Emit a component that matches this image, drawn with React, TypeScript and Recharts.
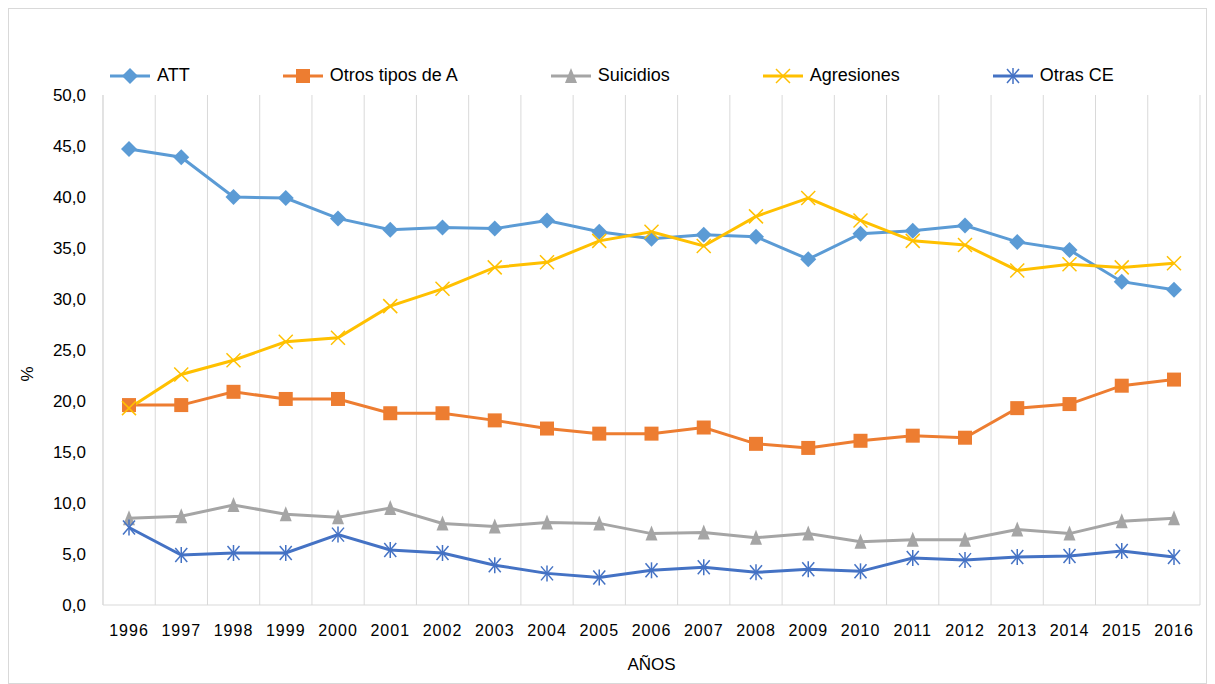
import React from 'react';
import { LineChart, Line, XAxis, YAxis, CartesianGrid } from 'recharts';

const years = ['1996', '1997', '1998', '1999', '2000', '2001', '2002', '2003', '2004', '2005', '2006', '2007', '2008', '2009', '2010', '2011', '2012', '2013', '2014', '2015', '2016'];
const att = [44.7, 43.9, 40.0, 39.9, 37.9, 36.8, 37.0, 36.9, 37.7, 36.6, 35.9, 36.3, 36.1, 33.9, 36.4, 36.7, 37.2, 35.6, 34.8, 31.7, 30.9];
const otrosTipos = [19.6, 19.6, 20.9, 20.2, 20.2, 18.8, 18.8, 18.1, 17.3, 16.8, 16.8, 17.4, 15.8, 15.4, 16.1, 16.6, 16.4, 19.3, 19.7, 21.5, 22.1];
const suicidios = [8.5, 8.7, 9.8, 8.9, 8.6, 9.5, 8.0, 7.7, 8.1, 8.0, 7.0, 7.1, 6.6, 7.0, 6.2, 6.4, 6.4, 7.4, 7.0, 8.2, 8.5];
const agresiones = [19.3, 22.6, 24.0, 25.8, 26.2, 29.3, 31.0, 33.1, 33.6, 35.7, 36.6, 35.2, 38.1, 39.9, 37.7, 35.7, 35.3, 32.8, 33.4, 33.1, 33.5];
const otrasCE = [7.6, 4.9, 5.1, 5.1, 6.9, 5.4, 5.1, 3.9, 3.1, 2.7, 3.4, 3.7, 3.2, 3.5, 3.3, 4.6, 4.4, 4.7, 4.8, 5.3, 4.7];
const yTicks = [0, 5, 10, 15, 20, 25, 30, 35, 40, 45, 50];

const data = years.map((year, i) => ({
  year,
  att: att[i],
  otros: otrosTipos[i],
  suicidios: suicidios[i],
  agresiones: agresiones[i],
  otrasCE: otrasCE[i],
}));

const FONT = "'Liberation Sans', Arial, sans-serif";

type Marker = 'diamond' | 'square' | 'triangle' | 'x' | 'star';

function drawMarker(kind: Marker, cx: number, cy: number, color: string, key?: string) {
  switch (kind) {
    case 'diamond':
      return <polygon key={key} points={`${cx},${cy - 8} ${cx + 8},${cy} ${cx},${cy + 8} ${cx - 8},${cy}`} fill={color} />;
    case 'square':
      return <rect key={key} x={cx - 7} y={cy - 7} width={14} height={14} fill={color} />;
    case 'triangle':
      return <polygon key={key} points={`${cx},${cy - 8} ${cx + 6},${cy + 7} ${cx - 6},${cy + 7}`} fill={color} />;
    case 'x':
      return (
        <g key={key} stroke={color} strokeWidth={1.5}>
          <line x1={cx - 7} y1={cy - 7} x2={cx + 7} y2={cy + 7} />
          <line x1={cx - 7} y1={cy + 7} x2={cx + 7} y2={cy - 7} />
        </g>
      );
    default:
      return (
        <g key={key} stroke={color} strokeWidth={1.5}>
          <line x1={cx - 6} y1={cy - 7} x2={cx + 6} y2={cy + 7} />
          <line x1={cx - 6} y1={cy + 7} x2={cx + 6} y2={cy - 7} />
          <line x1={cx} y1={cy - 8} x2={cx} y2={cy + 8} />
        </g>
      );
  }
}

const series: { key: string; name: string; color: string; marker: Marker }[] = [
  { key: 'att', name: 'ATT', color: '#5B9BD5', marker: 'diamond' },
  { key: 'otros', name: 'Otros tipos de A', color: '#ED7D31', marker: 'square' },
  { key: 'suicidios', name: 'Suicidios', color: '#A5A5A5', marker: 'triangle' },
  { key: 'agresiones', name: 'Agresiones', color: '#FFC000', marker: 'x' },
  { key: 'otrasCE', name: 'Otras CE', color: '#4472C4', marker: 'star' },
];

function ChartLegend() {
  return (
    <div
      style={{
        position: 'absolute',
        top: 56,
        left: 101,
        display: 'flex',
        gap: 93,
        fontFamily: FONT,
        fontSize: 18,
        color: '#000',
      }}
    >
      {series.map((s) => (
        <div key={s.key} style={{ display: 'flex', alignItems: 'center' }}>
          <svg width={40} height={18} style={{ marginRight: 7 }}>
            <line x1={0} y1={9} x2={40} y2={9} stroke={s.color} strokeWidth={3} />
            {drawMarker(s.marker, 20, 9, s.color)}
          </svg>
          <span>{s.name}</span>
        </div>
      ))}
    </div>
  );
}

const PercentLabel = ({ viewBox }: any) => {
  const x = viewBox.x + 18;
  const y = viewBox.y + viewBox.height / 2 + 24;
  return (
    <text x={x} y={y} transform={`rotate(-90 ${x} ${y})`} textAnchor="middle" dominantBaseline="central" fontSize={17} fontFamily={FONT} fill="#000">
      %
    </text>
  );
};

export default function App() {
  return (
    <div style={{ position: 'relative', width: 1197, height: 674, border: '1px solid #d9d9d9', background: '#fff' }}>
      <ChartLegend />
      <LineChart width={1197} height={674} data={data} margin={{ top: 86, right: 6, left: 0, bottom: 0 }}>
        <CartesianGrid
          horizontal={false}
          stroke="#d9d9d9"
          verticalCoordinatesGenerator={({ offset }: any) =>
            Array.from({ length: years.length + 1 }, (_, i) => offset.left + (i * offset.width) / years.length)
          }
        />
        <XAxis
          dataKey="year"
          height={78}
          padding={{ left: 26, right: 26 }}
          tickLine={false}
          tickSize={0}
          tickMargin={20}
          axisLine={{ stroke: '#d9d9d9' }}
          interval={0}
          tick={{ fontSize: 16, fill: '#000', fontFamily: FONT, letterSpacing: 1 }}
          label={{ value: 'AÑOS', position: 'insideBottom', offset: 13, fill: '#000', fontSize: 17, fontFamily: FONT }}
        />
        <YAxis
          width={94}
          domain={[0, 50]}
          ticks={yTicks}
          interval={0}
          tickLine={false}
          tickSize={0}
          tickMargin={17}
          axisLine={{ stroke: '#d9d9d9' }}
          tickFormatter={(v: number) => v.toFixed(1).replace('.', ',')}
          tick={{ fontSize: 17, fill: '#000', fontFamily: FONT }}
          label={{ content: PercentLabel }}
        />
        {series.map((s) => (
          <Line
            key={s.key}
            type="linear"
            dataKey={s.key}
            name={s.name}
            stroke={s.color}
            strokeWidth={3}
            isAnimationActive={false}
            dot={(p: any) => drawMarker(s.marker, p.cx, p.cy, s.color, `${s.key}-${p.index}`)}
            activeDot={false}
          />
        ))}
      </LineChart>
    </div>
  );
}
